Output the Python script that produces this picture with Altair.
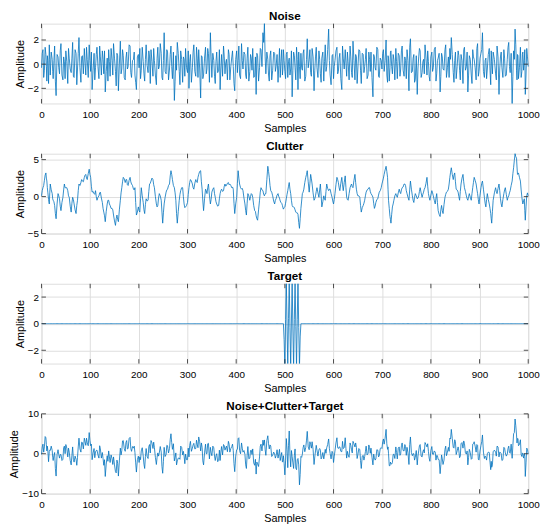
import altair as alt
import pandas as pd

# sample positions
samples = [
    0, 3, 6, 9, 11, 13, 16, 18, 22, 24,
    27, 30, 34, 37, 40, 44, 47, 50, 54, 57,
    61, 64, 67, 71, 74, 77, 81, 84, 88, 91,
    94, 98, 101, 104, 108, 111, 114, 118, 121, 125,
    128, 131, 135, 138, 141, 145, 148, 152, 155, 158,
    162, 165, 168, 172, 175, 178, 182, 185, 189, 192,
    195, 199, 202, 205, 209, 212, 215, 219, 222, 225,
    229, 232, 236, 239, 242, 246, 249, 252, 256, 259,
    263, 266, 269, 273, 276, 279, 283, 286, 290, 293,
    296, 300, 303, 306, 310, 313, 317, 320, 323, 327,
    330, 333, 337, 340, 343, 347, 350, 354, 357, 360,
    364, 367, 370, 374, 377, 380, 384, 387, 391, 394,
    397, 401, 404, 407, 411, 414, 418, 421, 424, 428,
    431, 434, 438, 441, 444, 448, 451, 455, 458, 461,
    465, 468, 471, 475, 479, 482, 486, 489, 492, 495,
    497, 500, 503, 506, 509, 512, 515, 518, 521, 524, 527, 530, 533,
    536, 539, 543, 546, 550, 553, 556, 560, 563, 566,
    570, 573, 576, 580, 583, 586, 590, 593, 597, 600,
    603, 607, 610, 613, 617, 620, 624, 627, 630, 634,
    637, 640, 644, 647, 650, 654, 657, 661, 664, 667,
    671, 674, 677, 681, 684, 687, 691, 694, 698, 701,
    704, 708, 711, 713, 716, 718, 721, 724, 728, 731,
    735, 738, 741, 745, 748, 751, 755, 758, 762, 765,
    768, 772, 775, 778, 782, 785, 788, 792, 795, 798,
    802, 805, 809, 812, 815, 819, 822, 825, 829, 832,
    836, 839, 842, 846, 849, 852, 856, 859, 862, 866,
    869, 873, 876, 879, 883, 886, 889, 893, 896, 899,
    903, 906, 910, 913, 916, 920, 923, 925, 928, 933,
    936, 940, 943, 946, 950, 953, 957, 960, 963, 967,
    970, 973, 976, 978, 980, 984, 987, 989, 992, 994,
    997, 1000,
]

# noise read at the sample positions above
noise = [
    -0.3, 1.2, -0.5, 0.8, -1.4, 0.3, 1.6, -0.9, 0.4, -1.2,
    1.5, -2.6, 0.6, -0.8, 1.7, -1.3, 0.2, 1.1, -1.6, 0.5,
    -0.7, 1.8, -1.1, 0.9, -0.4, 2.2, -1.5, 0.7, 1.3, -0.9,
    0.4, 1.6, -0.6, -2.1, 0.9, -0.3, 1.4, -1.2, 0.6, 1.1,
    -0.8, -2.3, 0.5, 1.2, -1.0, 0.3, 1.7, -0.6, 0.9, -2.2,
    1.9, -0.4, 0.7, -1.3, 1.0, -0.2, 1.5, -1.1, 0.4, -0.9,
    -2.1, 0.8, 1.3, -0.5, 0.2, -1.4, 1.6, -0.7, 0.6, 1.2,
    -1.0, 0.3, -1.7, 1.4, -0.2, 0.9, -1.3, 2.6, -0.8, 1.0,
    -0.4, 1.5, -1.2, -3.0, 0.7, 1.8, -0.6, 1.1, -1.5, 0.4,
    1.3, -0.7, -2.0, 0.8, -0.3, 1.6, -1.0, 0.5, 1.2, -2.8,
    0.6, -0.9, 1.4, -0.4, 0.9, 2.6, -1.1, 0.3, -1.6, 1.0,
    -0.5, -2.1, 0.8, 1.5, -0.8, 0.4, 1.2, -1.3, 0.6, -0.2,
    -2.2, 1.1, 0.3, -0.9, 1.7, -0.4, 0.8, -1.2, 1.4, -0.6,
    0.5, 1.3, -1.0, -2.5, 0.7, -0.3, 1.2, 2.6, 3.35, -0.8,
    0.4, -1.4, 1.1, -0.5, 0.9, -0.2, -1.5, 1.3, 0.2, -0.9,
    1.2, -0.6, 0.8, -1.1, 0.5, -0.4, -2.7, 1.0, -0.3, 1.4, -2.1, -0.2, 0.9,
    -0.5, 1.2, -1.0, 2.1, 0.4, -0.7, 1.3, -2.2, 0.6, -0.3,
    1.1, -0.8, 0.5, -1.4, 1.6, -0.2, 2.9, -0.9, 0.7, -1.2,
    0.3, 1.4, -0.6, 0.9, -2.1, 0.5, 1.2, -1.0, 0.2, 1.5,
    -0.7, 1.9, -1.3, 0.6, -0.4, 1.1, -1.6, 0.8, -0.2, 1.3,
    -0.9, 0.4, 1.0, -2.7, 0.6, -0.5, 1.2, -1.1, 0.3, 0.9,
    -0.6, 2.0, -1.5, 0.5, -0.3, 1.1, -0.8, 0.4, 1.3, -1.2,
    0.7, -0.4, 1.5, -1.0, 0.3, 1.2, -2.2, 2.1, -0.6, 0.8,
    -1.3, -2.5, 0.6, 1.1, -0.7, 0.4, 1.6, -0.9, 0.2, -1.4,
    1.0, -0.3, 1.4, -0.8, 0.5, -2.3, 0.9, -0.4, 1.2, -1.1,
    0.6, 1.3, 2.2, -0.7, 0.3, -1.2, 1.1, -0.5, 0.8, -1.6,
    1.4, -0.2, -2.3, 0.7, -0.9, 1.2, 0.4, -1.3, 1.7, -0.6,
    0.9, 2.6, -1.1, 0.5, -0.4, 1.3, -1.7, 0.2, 1.0, -0.8,
    1.5, -2.5, 0.6, -0.3, 1.2, -1.0, 0.4, 1.8, -0.7, -3.25,
    1.1, 2.9, -0.5, 0.8, -1.2, 1.4, -0.6, 1.0, 0.3, -2.5,
    1.3, -0.2,
]

# noise read half-way between consecutive sample positions
noise_mid = [
    0.9, -1.1, 1.4, -0.2, 0.7, -1.6, 0.4, 1.0, -0.6, 0.3,
    -1.4, 0.8, -0.3, 1.1, -0.9, 0.6, -1.2, 0.2, 1.3, -0.4,
    0.5, -1.0, 1.2, -1.7, 0.9, -0.3, 0.6, -0.8, 0.1, 1.4,
    -1.1, 0.3, 1.0, -0.5, -1.3, 0.8, -0.2, 1.5, -0.9, 0.4,
    1.1, -0.6, -1.4, 0.2, 1.3, -0.9, 0.5, -1.8, 0.7, 0.0,
    -0.8, 1.2, -1.1, 0.5, -0.4, 1.6, -0.7, 0.3, 1.0, -1.5,
    0.6, -0.3, -1.2, 1.4, -0.8, 0.4, -0.1, 1.1, -1.6, 0.2,
    1.3, -0.9, 0.5, -0.4, 1.7, -1.1, 0.3, -0.6, 1.2, -1.3,
    0.8, -0.2, 1.0, -1.4, -0.5, 0.9, -1.7, 0.4, 0.6, -1.0,
    -0.3, 1.1, 0.2, -1.5, 1.0, -0.6, 1.4, -1.1, -0.4, 0.7,
    -1.2, 0.5, -0.8, 1.3, -1.5, 0.6, 0.9, -1.0, 0.2, -0.7,
    1.2, -0.4, -1.0, 0.6, 0.1, -1.3, 0.8, -0.2, 1.1, -1.6,
    0.4, -0.7, 1.5, -1.2, 0.3, 1.0, -0.9, 0.5, -1.4, 0.8,
    -0.5, -1.1, 0.6, 0.9, -1.4, 1.3, -0.2, 1.8, 0.6, 1.0,
    -0.9, 0.7, -1.3, 1.0, -0.6, 0.8, -0.1, -1.1, 1.2, -0.4,
    0.3, -1.2, 1.0, 0.2, -0.9, 1.1, -0.5, 0.7, -1.3, 0.4, 1.0, -1.2, -0.3,
    0.9, -1.4, 0.4, -0.3, 1.2, -1.0, 0.6, -0.5, 1.4, -1.1,
    0.4, -1.5, 1.0, 0.2, -0.6, 1.2, 0.3, -1.7, 0.8, -0.2,
    1.1, -0.8, 0.5, -1.2, 1.5, -0.4, 0.1, 1.0, -1.3, 0.6,
    -1.1, 0.3, 0.8, -1.6, 1.2, -0.5, 0.9, -0.7, 0.4, -1.2,
    1.0, -0.6, -1.1, 0.8, -0.3, 1.4, -1.0, 0.5, -0.4, 1.2,
    0.3, -0.9, 0.7, -1.4, 1.0, -0.2, 0.8, -1.3, 0.2, 0.9,
    -1.0, 1.1, -0.5, 0.6, -1.2, 0.3, 1.4, -0.7, 0.5, -1.5,
    0.7, -0.4, 1.3, -1.1, 0.2, -0.8, 0.5, 1.1, -1.0, 0.6,
    -0.6, 1.2, -1.4, 0.3, 0.9, -1.0, 0.6, -0.5, 1.6, -0.3,
    -1.1, 0.4, 0.8, -1.5, 1.0, -0.2, 0.7, -1.3, 0.3, 1.2,
    -0.5, 1.0, -0.9, 0.4, -1.6, 0.6, -0.3, 1.3, -1.0, 0.5,
    1.2, -0.6, 0.3, -1.2, 0.8, -0.5, 1.1, -0.8, 0.4, -1.3,
    0.6, -0.4, 1.0, -1.1, 0.5, -0.9, 1.4, -0.2, 0.9, -1.0,
    0.4, 1.6, -1.3, 0.7, -0.3, -1.1, 0.8, -0.5, 1.2, -0.9,
    0.6,
]

# clutter read at the sample positions above
clutter = [
    0.1, 1.2, 2.2, 3.2, 2.1, 0.6, -1.0, 1.7, 0.4, -0.5,
    -1.2, -3.0, 0.4, -0.3, -1.9, -0.1, 1.7, 1.2, 0.8, -0.1,
    -2.1, -0.1, -1.0, -2.3, -0.5, 1.7, 1.9, 2.1, 2.6, 3.0,
    2.3, 3.7, 2.6, 0.6, 0.4, 0.8, -0.5, 0.1, 0.6, -0.8,
    -2.1, -3.4, -1.0, -0.5, -1.2, -1.6, -2.5, -3.9, -2.5, -3.4,
    -0.5, 1.2, 2.6, 1.9, 2.3, 1.5, 2.6, 1.7, 1.0, 1.2,
    -2.5, -1.4, -2.1, 1.2, -0.8, -2.3, -0.3, -0.5, 1.7, 2.1,
    2.3, 1.2, -1.0, -1.2, 0.4, -0.5, -3.6, -1.0, 0.6, 1.0,
    1.7, 3.5, 2.3, 1.2, -0.5, -3.6, -0.5, 0.8, 1.2, -1.0,
    -1.4, -0.8, 1.2, 2.3, 1.7, 1.0, 2.3, 1.9, 3.0, 3.5,
    1.0, -1.9, 1.0, 0.4, 1.7, -1.0, 0.6, 1.2, -0.1, -1.0,
    -1.2, 0.4, 1.0, 0.8, 1.7, 1.5, 1.9, 1.7, 1.2, 1.0,
    -2.3, -0.1, 3.5, 1.7, 1.0, 0.8, -1.0, -2.5, 0.4, -0.5,
    0.4, -0.1, -1.9, -2.6, -3.2, -0.5, 1.2, 0.8, 0.1, 0.4,
    4.1, 2.6, 0.8, 0.1, -1.0, -0.3, 0.4, -0.2, -0.8, -1.2,
    -1.7, -1.4, -0.3, 0.8, 1.9, 0.4, -1.2, -1.4, -1.8, -2.2, -2.4, -4.3, -1.6,
    0.4, 1.0, 2.6, 3.5, 0.6, 3.0, 1.7, -0.5, 0.1, 1.2,
    -0.1, 1.7, -1.4, 0.1, -0.5, 1.7, 0.8, 1.0, -0.1, -1.0,
    0.4, 2.6, 1.9, 0.8, 2.6, 0.8, 2.8, -0.1, -0.5, 1.2,
    1.7, 1.2, 3.0, 1.0, 0.1, -0.1, -2.1, -1.2, -0.5, 0.6,
    1.0, 1.2, 0.4, -0.1, -1.6, -0.8, -0.3, 0.6, 1.2, 2.1,
    3.0, 4.1, 2.6, -0.5, -2.7, -3.6, -1.4, -0.5, 0.4, -0.1,
    1.0, 0.4, 1.2, 1.7, 1.5, 0.4, -0.5, 2.1, 0.1, -0.8,
    0.4, -0.3, 0.1, 1.2, -0.1, 0.6, 1.2, 2.6, 0.4, -0.5,
    0.8, 0.1, -1.0, 0.4, -1.9, -2.7, -1.2, -2.3, -0.1, 0.6,
    1.0, 2.6, 3.9, 2.3, 3.2, 1.0, 0.6, -0.5, 1.7, 3.0,
    1.2, 0.1, -0.5, 0.4, -0.5, 1.2, 2.6, 1.7, 0.4, -1.0,
    1.2, 2.1, -0.1, -1.4, 0.4, -1.0, -2.3, -3.6, -0.5, 1.2,
    0.4, 1.7, -0.3, -1.4, 0.4, 1.2, -0.5, 0.1, 0.8, 2.1,
    3.9, 5.8, 5.2, 3.0, 3.2, 2.1, -0.1, -1.0, -0.3, -3.2,
    0.1, 0.1,
]

# clutter read half-way between consecutive sample positions
clutter_mid = [
    0.8, 1.5, 2.9, 2.5, 1.2, -0.4, 0.5, 0.9, -0.3, -0.7,
    -2.3, -1.0, 0.1, -1.3, -0.8, 0.9, 1.2, 1.2, 0.1, -1.3,
    -0.9, -0.4, -1.8, -1.2, 0.8, 1.5, 2.3, 2.0, 2.9, 2.5,
    3.1, 3.0, 1.4, 0.7, 0.3, 0.0, -0.1, 0.5, -0.2, -1.6,
    -2.6, -2.0, -0.5, -1.0, -1.6, -1.8, -3.3, -3.0, -3.1, -1.8,
    0.5, 2.0, 2.4, 2.3, 1.6, 2.2, 2.0, 1.5, 0.9, -0.8,
    -2.1, -1.9, -0.3, 0.1, -1.8, -1.1, -0.6, 0.7, 1.8, 2.5,
    1.6, 0.0, -1.4, -0.2, 0.1, -2.1, -2.2, -0.1, 0.9, 1.5,
    2.8, 3.0, 1.5, 0.5, -2.3, -2.0, 0.3, 1.2, 0.0, -1.5,
    -1.2, 0.3, 1.9, 2.1, 1.2, 1.8, 2.0, 2.6, 3.4, 2.0,
    -0.6, -0.3, 0.8, 1.2, 0.2, -0.4, 1.0, 0.4, -0.7, -1.3,
    -0.3, 0.8, 0.7, 1.4, 1.4, 1.8, 1.6, 1.5, 1.3, -0.9,
    -1.0, 1.8, 2.5, 1.2, 1.1, -0.2, -1.9, -0.9, 0.1, 0.0,
    0.3, -1.2, -2.0, -3.0, -1.8, 0.6, 0.9, 0.3, 0.4, 2.3,
    3.4, 1.5, 0.6, -0.6, -0.5, 0.2, 0.0, -0.6, -0.9, -1.5,
    -1.5, -0.9, 0.3, 1.4, 1.0, -0.5, -1.4, -1.5, -2.1, -2.2, -3.5, -3.0, -0.6,
    0.6, 1.9, 3.0, 2.0, 1.8, 2.4, 0.5, -0.3, 0.7, 0.5,
    0.9, 0.2, -0.7, -0.3, 0.7, 1.1, 1.0, 0.4, -0.6, -0.4,
    1.6, 2.3, 1.2, 1.8, 1.6, 1.9, 1.2, -0.4, 0.4, 1.5,
    1.3, 2.2, 1.9, 0.4, 0.1, -1.2, -1.5, -0.9, 0.1, 0.9,
    1.2, 0.7, 0.2, -0.9, -1.3, -0.4, 0.2, 0.8, 1.7, 2.5,
    3.6, 3.4, 1.0, -1.6, -3.1, -2.4, -1.0, 0.1, 0.1, 0.5,
    0.6, 0.9, 1.3, 1.7, 0.8, -0.1, 0.9, 1.0, -0.5, -0.1,
    0.1, -0.2, 0.7, 0.5, 0.3, 1.0, 1.8, 1.4, -0.1, 0.2,
    0.5, -0.5, -0.2, -0.8, -2.4, -1.8, -1.9, -1.1, 0.3, 0.7,
    1.7, 3.3, 3.0, 2.9, 2.0, 0.9, 0.0, 0.7, 2.5, 2.0,
    0.7, -0.3, 0.0, -0.1, 0.4, 1.9, 2.2, 1.0, -0.4, 0.2,
    1.8, 1.0, -0.9, -0.4, -0.4, -1.6, -3.0, -2.0, 0.5, 0.7,
    1.1, 0.8, -1.0, -0.4, 0.9, 0.3, -0.1, 0.5, 1.5, 3.1,
    4.9, 5.4, 4.0, 3.1, 2.6, 0.9, -0.6, -0.6, -1.9, -1.4,
    0.5,
]

# target echo: a short burst between samples 500 and 530, zero elsewhere
target_burst_samples = [498.5, 500, 501.5, 503, 504.5, 506, 507.5, 509, 510.5, 512, 513.5,
                        515, 516.5, 518, 519.5, 521, 522.5, 524, 525.5, 527, 528.5, 530, 531.5]
target_burst_values = [-1.2, -3.3, 0.3, 3.3, -0.2, -3.2, 0.4, 3.3, -0.3, -3.3, 0.2,
                       3.2, -0.4, -3.3, 0.3, 3.3, -0.2, -3.2, 0.3, 3.3, -0.3, -3.3, -1.0]

x_ticks = [0, 100, 200, 300, 400, 500, 600, 700, 800, 900, 1000]

assert len(samples) == len(noise) == len(clutter), (len(samples), len(noise), len(clutter))
assert len(noise_mid) == len(clutter_mid) == len(samples) - 1, (len(noise_mid), len(clutter_mid))

# interleave the readings at the sample positions and half-way points
fine_x, fine_noise, fine_clutter = [], [], []
for i, s in enumerate(samples):
    fine_x.append(float(s))
    fine_noise.append(noise[i])
    fine_clutter.append(clutter[i])
    if i < len(samples) - 1:
        fine_x.append((s + samples[i + 1]) / 2)
        fine_noise.append(noise_mid[i])
        fine_clutter.append(clutter_mid[i])

burst = dict(zip(target_burst_samples, target_burst_values))
fine_target = [burst.get(s, 0.0) for s in fine_x]
fine_sum = [round(n + c + t, 3) for n, c, t in zip(fine_noise, fine_clutter, fine_target)]

W, H = 494, 81
TICK = 4.5
DARK = "#262626"
LINE = "#0072BD"
FONT = "Liberation Sans"


def panel(values, title, ydom, yticks, clip=False):
    df = pd.DataFrame({"Samples": fine_x, "Amplitude": values})
    x = alt.X(
        "Samples:Q",
        scale=alt.Scale(domain=[0, 1000], nice=False, zero=False),
        axis=alt.Axis(values=x_ticks, title="Samples", format="d", labelFlush=False,
                      grid=True, ticks=False, domain=False, labelPadding=6, titlePadding=3,
                      titleFontWeight="normal", labelFontWeight="normal"),
    )
    y = alt.Y(
        "Amplitude:Q",
        scale=alt.Scale(domain=ydom, nice=False, zero=False),
        axis=alt.Axis(values=yticks, title="Amplitude", format="d", grid=True, ticks=False,
                      domain=False, labelPadding=3, titlePadding=2,
                      titleFontWeight="normal", labelFontWeight="normal"),
    )
    line = alt.Chart(df).mark_line(color=LINE, strokeWidth=0.8, clip=clip).encode(x=x, y=y)
    xt = pd.DataFrame({"Samples": x_ticks})
    yt = pd.DataFrame({"Amplitude": yticks})
    top = alt.Chart(xt).mark_rule(color=DARK, strokeWidth=0.8).encode(
        x=x, y=alt.value(0), y2=alt.value(TICK))
    bot = alt.Chart(xt).mark_rule(color=DARK, strokeWidth=0.8).encode(
        x=x, y=alt.value(H), y2=alt.value(H - TICK))
    left = alt.Chart(yt).mark_rule(color=DARK, strokeWidth=0.8).encode(
        y=y, x=alt.value(0), x2=alt.value(TICK))
    right = alt.Chart(yt).mark_rule(color=DARK, strokeWidth=0.8).encode(
        y=y, x=alt.value(W), x2=alt.value(W - TICK))
    ttl = alt.Chart(pd.DataFrame({"t": [title]})).mark_text(
        font=FONT, fontSize=11.8, fontWeight="bold", color="#000000",
        baseline="alphabetic", align="center",
    ).encode(text="t:N", x=alt.value(W / 2), y=alt.value(-4))
    return alt.layer(line, top, bot, left, right, ttl).properties(width=W, height=H)


chart = alt.vconcat(
    panel(fine_noise, "Noise", [-3.25, 3.35], [-2, 0, 2]),
    panel(fine_clutter, "Clutter", [-5, 5.8], [-5, 0, 5]),
    panel(fine_target, "Target", [-3, 3], [-2, 0, 2], clip=True),
    panel(fine_sum, "Noise+Clutter+Target", [-10, 10], [-10, 0, 10]),
    spacing=6,
).properties(
    padding={"left": 0, "top": -2, "right": 2, "bottom": 0},
).configure_view(
    stroke=DARK, strokeWidth=0.8,
).configure_axis(
    labelFont=FONT, labelFontSize=10.5, labelColor=DARK,
    titleFont=FONT, titleFontSize=11.5, titleColor=DARK, titleFontWeight="normal",
    gridColor="#dcdcdc", gridWidth=0.7, gridOpacity=1,
).configure(background="white")

chart.save("out.html", embed_options={"renderer": "svg", "actions": False})
